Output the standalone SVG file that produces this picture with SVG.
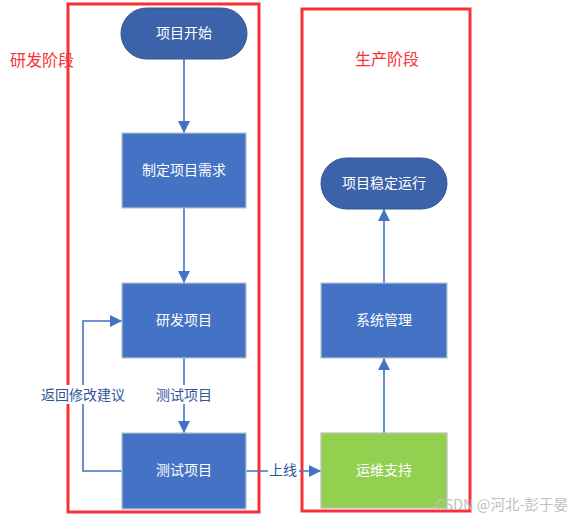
<svg xmlns="http://www.w3.org/2000/svg" width="583" height="523" viewBox="0 0 583 523">
<style>
text{font-family:"Noto Sans CJK SC","Noto Sans",sans-serif}
.frame{fill:none;stroke:#f53337;stroke-width:3}
.phase{fill:#f53337;font-size:16px;text-anchor:middle;dominant-baseline:central}
.term{fill:#3c62a9;stroke:#2f5597;stroke-width:1}
.proc{fill:#4472c4;stroke:#bcc3d0;stroke-width:1.2}
.green{fill:#92d050;stroke:#bfbfbf;stroke-width:1.2}
.nt{fill:#fff;font-size:14px;text-anchor:middle;dominant-baseline:central}
.edge{fill:none;stroke:#4472c4;stroke-width:1.6}
.lbl{fill:#2f5597;font-size:14px;text-anchor:middle;dominant-baseline:central}
.lblbg{fill:#fff}
</style>
<defs>
<marker id="ah" viewBox="0 0 12 12" refX="12" refY="6" markerWidth="12" markerHeight="12" markerUnits="userSpaceOnUse" orient="auto">
<path d="M0,0 L12,6 L0,12 Z" fill="#4472c4"/>
</marker>
</defs>
<rect width="583" height="523" fill="#fff"/>
<g id="frames">
<rect class="frame" x="68" y="4" width="191" height="508"/>
<rect class="frame" x="302" y="9" width="168" height="502"/>
<text class="phase" x="42" y="59">研发阶段</text>
<text class="phase" x="387" y="58">生产阶段</text>
</g>
<g id="connectors">
<line class="edge" x1="184" y1="59" x2="184" y2="133" marker-end="url(#ah)"/>
<line class="edge" x1="184" y1="208" x2="184" y2="283" marker-end="url(#ah)"/>
<line class="edge" x1="184" y1="358" x2="184" y2="433" marker-end="url(#ah)"/>
<rect class="lblbg" x="153" y="385" width="62" height="19"/>
<text class="lbl" x="184" y="394">测试项目</text>
<polyline class="edge" points="122,471 83,471 83,321 122,321" marker-end="url(#ah)"/>
<rect class="lblbg" x="40" y="385" width="87" height="19"/>
<text class="lbl" x="83" y="394">返回修改建议</text>
<line class="edge" x1="246" y1="471" x2="321" y2="471" marker-end="url(#ah)"/>
<rect class="lblbg" x="268" y="461" width="31" height="19"/>
<text class="lbl" x="283" y="469">上线</text>
<line class="edge" x1="384" y1="433" x2="384" y2="358" marker-end="url(#ah)"/>
<line class="edge" x1="384" y1="283" x2="384" y2="209" marker-end="url(#ah)"/>
</g>
<g id="start">
<rect class="term" x="121" y="8" width="126" height="51" rx="25.5"/>
<text class="nt" x="184" y="32">项目开始</text>
</g>
<g id="requirements">
<rect class="proc" x="122" y="133" width="124" height="75"/>
<text class="nt" x="184" y="169">制定项目需求</text>
</g>
<g id="develop">
<rect class="proc" x="122" y="283" width="124" height="75"/>
<text class="nt" x="184" y="319">研发项目</text>
</g>
<g id="test">
<rect class="proc" x="122" y="433" width="124" height="76"/>
<text class="nt" x="184" y="469">测试项目</text>
</g>
<g id="ops">
<rect class="green" x="321" y="433" width="126" height="75"/>
<text class="nt" x="384" y="469">运维支持</text>
</g>
<g id="sysmgmt">
<rect class="proc" x="321" y="283" width="126" height="75"/>
<text class="nt" x="384" y="319">系统管理</text>
</g>
<g id="stable">
<rect class="term" x="321" y="158" width="126" height="51" rx="25.5"/>
<text class="nt" x="384" y="182">项目稳定运行</text>
</g>
<text x="568" y="510" font-size="14.5" fill="#c0c0c0" text-anchor="end" style="font-family:'Noto Sans CJK SC','Noto Sans',sans-serif">CSDN @河北-彭于晏</text>
</svg>
